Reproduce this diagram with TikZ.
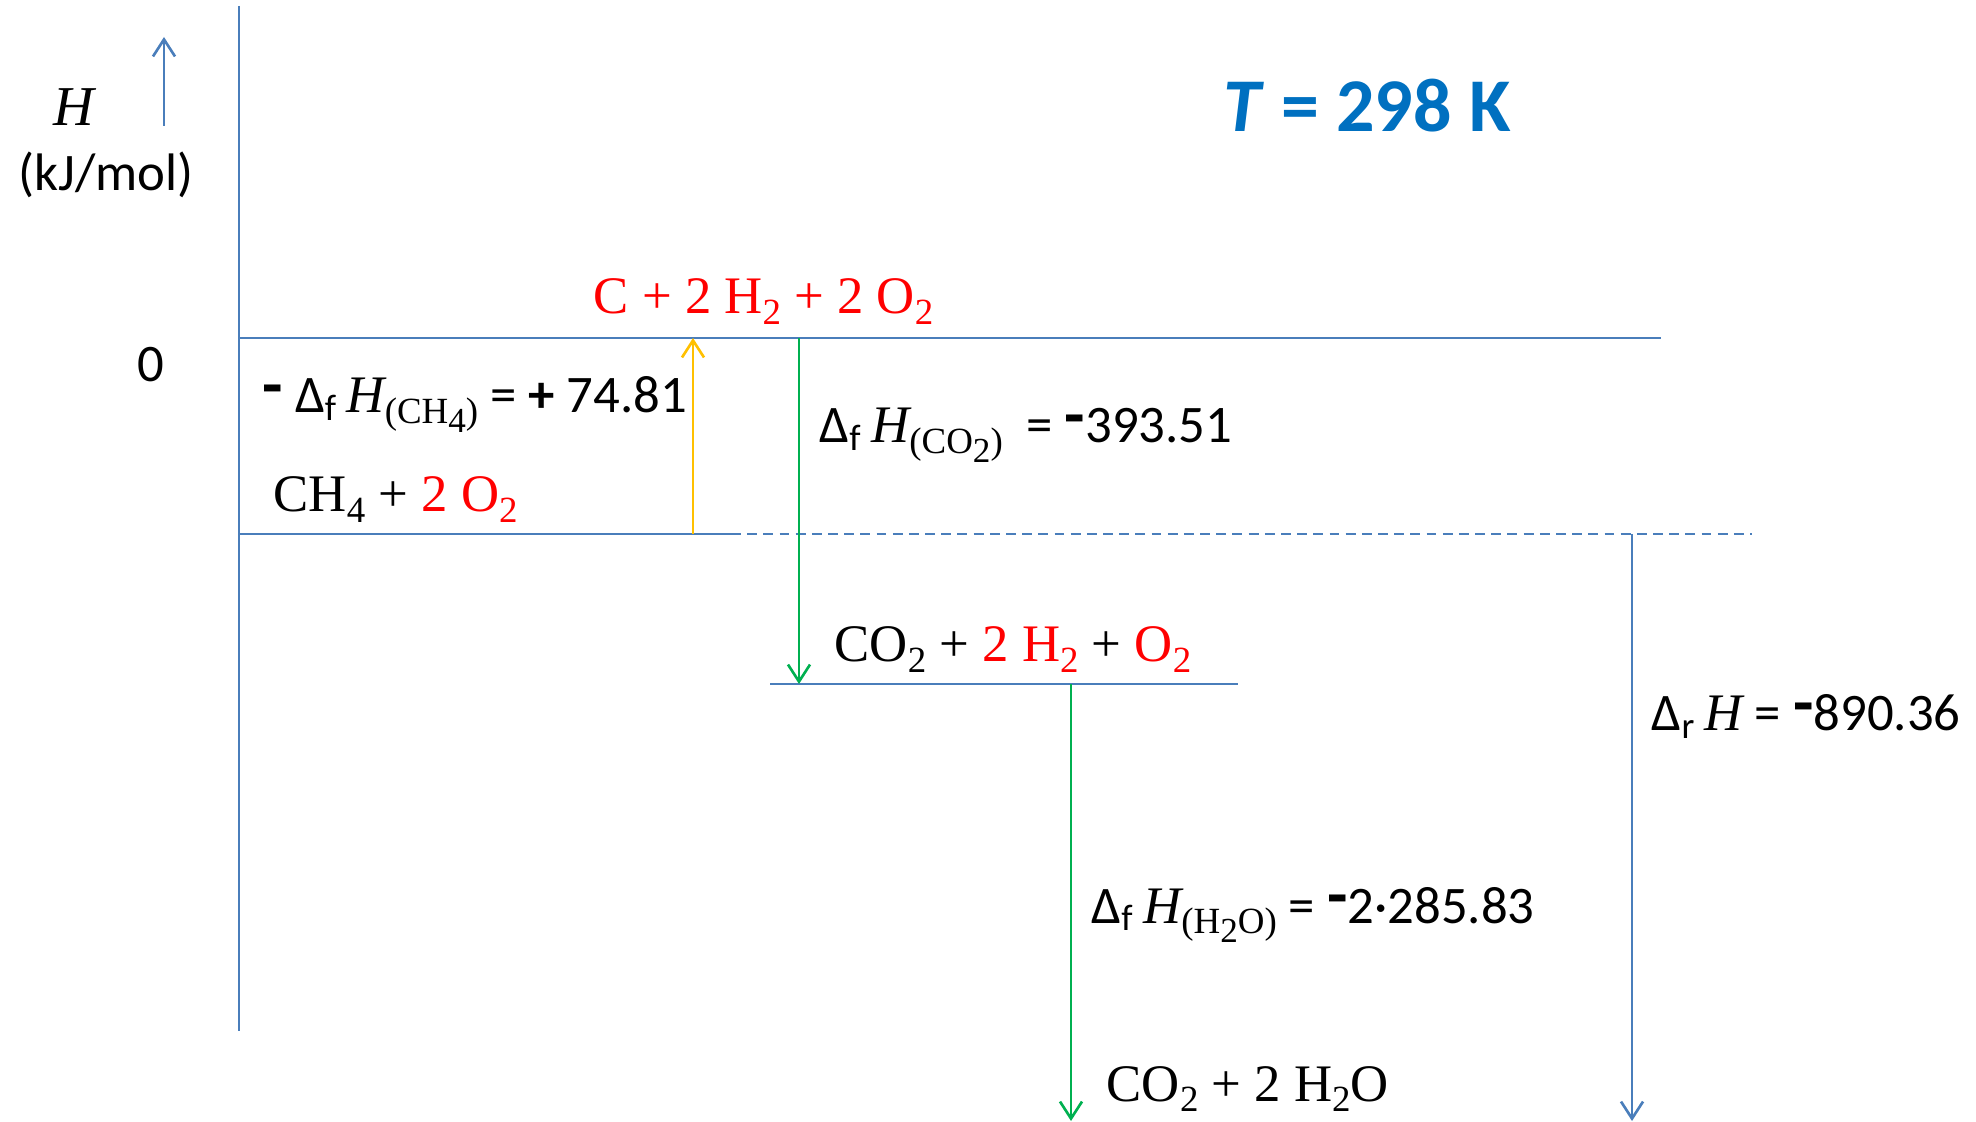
\documentclass[tikz,border=0pt]{standalone}
\usepackage{fontspec}
\setmainfont{Liberation Serif}
\newfontfamily\calfont{Carlito}
\usetikzlibrary{arrows.meta}
\definecolor{lineblue}{HTML}{4A7EBB}
\definecolor{arrgreen}{HTML}{00B050}
\definecolor{arryellow}{HTML}{FFC000}
\definecolor{titleblue}{HTML}{0070C0}
\definecolor{chemred}{HTML}{FF0000}
\newcommand{\sbs}[1]{\raisebox{-0.19em}{\fontsize{10.5}{10.5}\selectfont #1}}
\newcommand{\ssbs}[1]{\raisebox{-0.25em}{\fontsize{10}{10}\selectfont #1}}
\newcommand{\fsub}[1]{\textsubscript{#1}}
\newcommand{\tmr}[1]{{\rmfamily\mdseries\upshape #1}}
\newcommand{\itH}{{\rmfamily\itshape H}}
\newcommand{\bneg}{\raisebox{0.22ex}{\fontsize{19}{19}\selectfont\bfseries -}}
\begin{document}
\begin{tikzpicture}[x=0.01cm,y=-0.01cm,
  lvl/.style={lineblue,line width=0.75pt},
  arr/.style={line width=0.75pt,-{Straight Barb[length=1.7mm,width=2.2mm]}},
  lbl/.style={anchor=base west,inner sep=0pt},
  tms/.style={font=\fontsize{15}{18}\selectfont},
  cal/.style={font=\calfont\fontsize{15}{18}\selectfont}]
\useasboundingbox (0,0) rectangle (1976,1122);

% axis
\coordinate (axtop) at (239,6);
\coordinate (axbot) at (239,1031);
\draw[lvl] (axtop) -- (axbot);
\coordinate (hs) at (164,126);
\coordinate (he) at (164,37);
\draw[arr,lineblue] (hs) -- (he);
\node[tms,anchor=base,inner sep=0pt] (hlab) at (74,126) {\fontsize{16}{19}\selectfont\itshape H};
\node[cal,anchor=base,inner sep=0pt] (unit) at (106,191) {(kJ/mol)};
\node[cal,anchor=base,inner sep=0pt] (zero) at (151,382) {0};

% title
\node[anchor=base,inner sep=0pt,text=titleblue,font=\calfont\fontsize{21.6}{26}\selectfont\bfseries] (title) at (1367,132) {\textit{T} = 298 K};

% levels
\coordinate (z0) at (239,338);
\coordinate (z1) at (1661,338);
\draw[lvl] (z0) -- (z1);
\coordinate (m0) at (239,534);
\coordinate (m1) at (731,534);
\coordinate (m2) at (1752,534);
\draw[lvl] (m0) -- (m1);
\draw[lvl,dash pattern=on 2.8pt off 1.8pt] (m1) -- (m2);
\coordinate (c0) at (770,684);
\coordinate (c1) at (1238,684);
\draw[lvl] (c0) -- (c1);

% arrows
\coordinate (ya) at (693,534);
\coordinate (yb) at (693,338);
\draw[arr,arryellow] (ya) -- (yb);
\coordinate (ga) at (799,338);
\coordinate (gb) at (799,684);
\draw[arr,arrgreen] (ga) -- (gb);
\coordinate (g2a) at (1071,684);
\coordinate (g2b) at (1071,1121);
\draw[arr,arrgreen] (g2a) -- (g2b);
\coordinate (ba) at (1632,534);
\coordinate (bb) at (1632,1121);
\draw[arr,lineblue] (ba) -- (bb);

% species
\node[tms,lbl,text=chemred] (elem) at (593,314) {C + 2 H\sbs{2} + 2 O\sbs{2}};
\node[tms,lbl] (meth) at (273,512) {CH\sbs{4} + {\color{chemred}2 O\sbs{2}}};
\node[tms,lbl] (co2) at (834,662) {CO\sbs{2} + {\color{chemred}2 H\sbs{2}} + {\color{chemred}O\sbs{2}}};
\node[tms,lbl] (prod) at (1106,1101) {CO\sbs{2} + 2 H\sbs{2}O};

% enthalpies
\node[cal,lbl] (dh1) at (262,413) {\bneg{} Δ\fsub{f}\,\itH\sbs{\tmr{(CH\ssbs{4})}} = {\bfseries +} 74.81};
\node[cal,lbl] (dh2) at (819,443) {Δ\fsub{f}\,\itH\sbs{\tmr{(CO\ssbs{2})}}\ \ = \bneg{}393.51};
\node[cal,lbl] (dh3) at (1091,923) {Δ\fsub{f}\,\itH\sbs{\tmr{(H\ssbs{2}O)}} = \bneg{}2·285.83};
\node[cal,lbl] (dh4) at (1651,731) {Δ\fsub{r}\,\itH{} = \bneg{}890.36};
\end{tikzpicture}
\end{document}
